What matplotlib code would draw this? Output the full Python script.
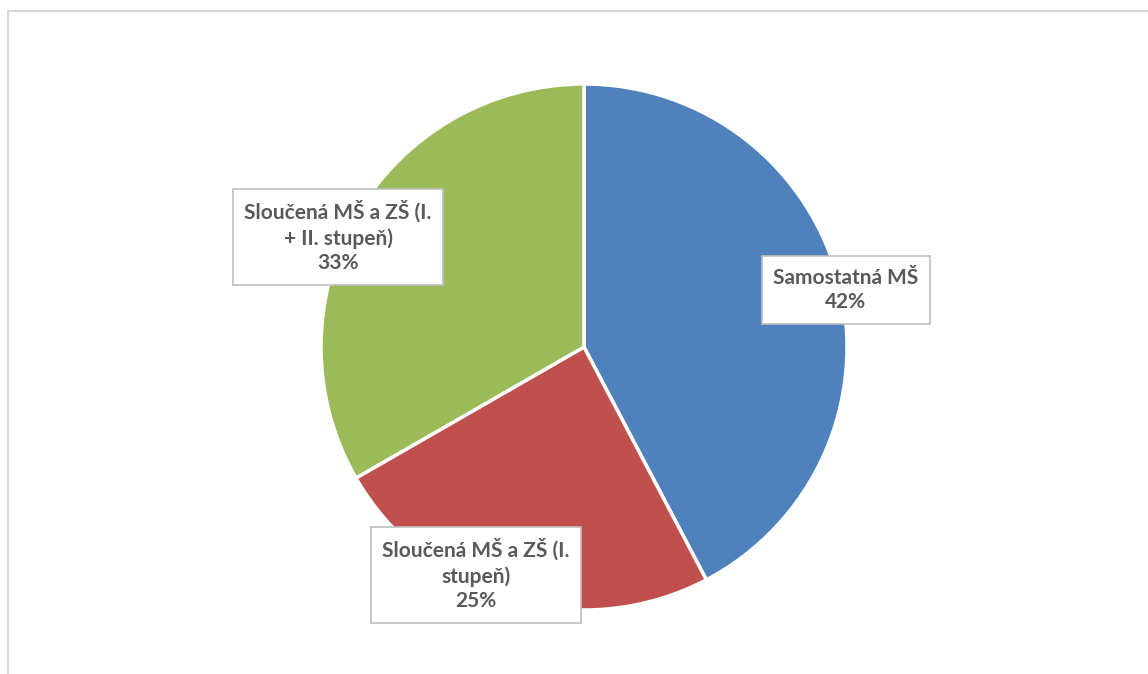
import matplotlib.pyplot as plt
from matplotlib.patches import Rectangle

# school type shares
categories = ['Samostatná MŠ', 'Sloučená MŠ a ZŠ (I.\nstupeň)', 'Sloučená MŠ a ZŠ (I.\n+ II. stupeň)']
shares = [42.3, 24.4, 33.3]
pct_labels = ['42%', '25%', '33%']
colors = ['#4F81BD', '#C0504D', '#9BBB59']

W, H = 1148, 674
fig = plt.figure(figsize=(W / 100, H / 100), dpi=100)
ax = fig.add_axes([0, 0, 1, 1])
ax.set_xlim(0, W)
ax.set_ylim(0, H)
ax.set_aspect('equal')
ax.axis('off')

# outer chart-area border (only top and left visible in the crop)
ax.add_patch(Rectangle((7.5, -10), W + 20, H - 11 + 10, fill=False,
                       edgecolor='#d9d9d9', linewidth=1.5))

cx, cy, r = 584, H - 347, 263
ax.pie(shares, colors=colors, startangle=90, counterclock=False,
       center=(cx, cy), radius=r, frame=True,
       wedgeprops=dict(edgecolor='white', linewidth=2.5))
ax.set_xlim(0, W)
ax.set_ylim(0, H)
ax.axis('off')

label_pos = [(846, 290), (476, 575), (338, 237)]
for name, pct, (x, y) in zip(categories, pct_labels, label_pos):
    ax.text(x, H - y, name + '\n' + pct, ha='center', va='center',
            fontsize=15, fontweight='bold', color='#595959',
            family=['Lato', 'DejaVu Sans'], linespacing=1.3,
            bbox=dict(boxstyle='square,pad=0.55', facecolor='white',
                      edgecolor='#bfbfbf', linewidth=1.2))

fig.savefig('out.png', dpi=100)
